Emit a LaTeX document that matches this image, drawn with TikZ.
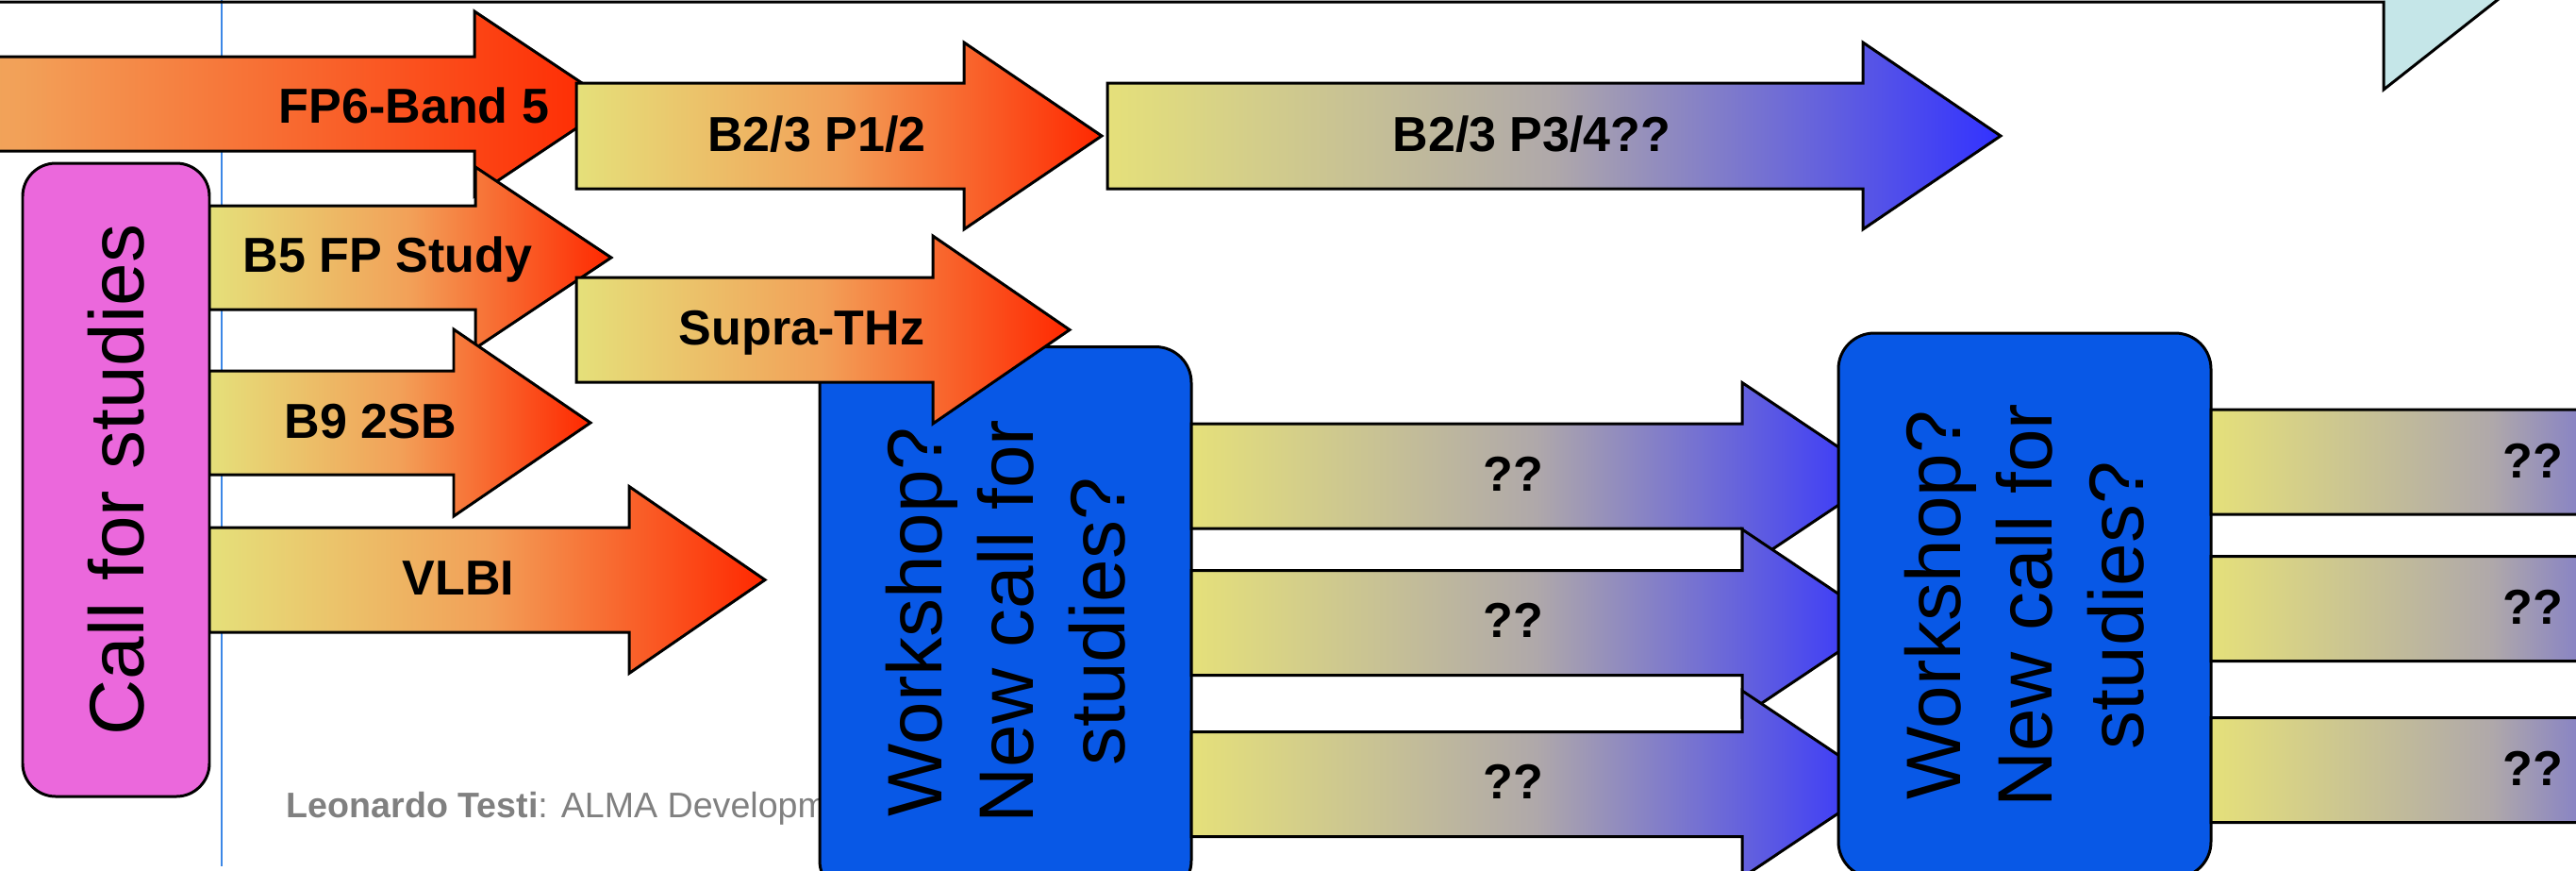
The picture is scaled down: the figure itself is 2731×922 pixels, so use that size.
\documentclass[tikz,border=0pt]{standalone}
\usepackage{fontspec}
\setmainfont{Liberation Sans}
\definecolor{cY}{RGB}{229,224,122}
\definecolor{cO}{RGB}{242,160,88}
\definecolor{cR}{RGB}{255,40,0}
\definecolor{cG}{RGB}{175,168,170}
\definecolor{cB}{RGB}{50,50,255}
\definecolor{cPink}{RGB}{235,104,220}
\definecolor{cBox}{RGB}{8,88,230}
\definecolor{cTeal}{RGB}{197,230,232}
\definecolor{cLine}{RGB}{60,135,230}
\newcommand{\garrow}[7]{%
  \path[#1] (#2,#5-#6) -- (#3,#5-#6) -- (#3,#5-#7) -- (#4,#5) -- (#3,#5+#7) -- (#3,#5+#6) -- (#2,#5+#6) -- cycle;}
\begin{document}
\begin{tikzpicture}[x=0.1mm,y=-0.1mm,line join=miter,
  outl/.style={draw=black,line width=0.85pt},
  warm/.style={outl,left color=cY,right color=cR,middle color=cO},
  cool/.style={outl,left color=cY,right color=cB,middle color=cG},
  lab/.style={inner sep=0pt,anchor=base,font=\fontsize{14.8}{17}\selectfont\bfseries},
  bigtxt/.style={font=\fontsize{23.3}{27.6}\selectfont,align=center,text=black},
  callbox/.style={outl,fill=cPink,rounded corners=3.5mm,inner sep=0pt,rotate=90,bigtxt},
  wbox/.style={outl,fill=cBox,rounded corners=3.8mm,inner sep=0pt,rotate=90,bigtxt}]
\useasboundingbox (0,0) rectangle (2731,922);
\clip (0,0) rectangle (2731,922);
% thin vertical guide line
\draw[cLine,line width=0.6pt] (235,-5) -- (235,918);
% teal arrow head (partly visible) and its lower edge
\fill[cTeal] (2527,-5) -- (2527,95) -- (2654,-5) -- cycle;
\draw[outl] (-10,2) -- (2527,2) -- (2527,95) -- (2654,-5);
% footer
\node[inner sep=0pt,anchor=base west,text=black!50,font=\fontsize{10.7}{12}\selectfont] (foot) at (303,866) {\textbf{Leonardo Testi}: ALMA Development};
% first workshop box
\node[wbox,minimum width=58.25mm,minimum height=39.4mm] (ws1) at (1066,658.75) {Workshop?\\New call for\\studies?};
% arrows from the call for studies
\garrow{warm}{-600}{503}{650}{110}{50}{98}
\garrow{warm}{222}{504}{648}{273}{55}{96}
\garrow{warm}{222}{481}{626}{448}{55}{99}
\garrow{warm}{222}{667}{811}{614.5}{55.5}{99}
\node[callbox,minimum width=67.1mm,minimum height=19.8mm] (call) at (123,508.5) {Call for studies};
\garrow{warm}{611}{1022}{1168}{144}{56}{99}
\garrow{warm}{611}{989}{1134}{349.5}{55.5}{99.5}
\garrow{cool}{1174}{1975}{2121}{144}{56}{99}
% arrows between workshops
\garrow{cool}{1263}{1847}{1995}{504.5}{55.5}{99}
\garrow{cool}{1263}{1847}{1995}{660}{55.5}{99}
\garrow{cool}{1263}{1847}{1995}{831}{55.5}{99}
\node[wbox,minimum width=57.7mm,minimum height=39.5mm] (ws2) at (2146.5,641.5) {Workshop?\\New call for\\studies?};
\garrow{cool}{2344}{2792}{2940}{489.5}{55.5}{99}
\garrow{cool}{2344}{2792}{2940}{645}{55.5}{99}
\garrow{cool}{2344}{2792}{2940}{816}{55.5}{99}
% labels
\node[lab] (fp6) at (439,130) {FP6-Band 5};
\node[lab] (b5) at (411,288) {B5 FP Study};
\node[lab] (b9) at (393,464) {B9 2SB};
\node[lab] (vlbi) at (486,630) {VLBI};
\node[lab] (b23a) at (866,160) {B2/3 P1/2};
\node[lab] (b23b) at (1624,160) {B2/3 P3/4??};
\node[lab] (supra) at (850,365) {Supra-THz};
\node[lab] (qa) at (1604,520) {??};
\node[lab] (qb) at (1604,675) {??};
\node[lab] (qc) at (1604,846) {??};
\node[lab] (qd) at (2685,506) {??};
\node[lab] (qe) at (2685,661) {??};
\node[lab] (qf) at (2685,832) {??};
\end{tikzpicture}
\end{document}
